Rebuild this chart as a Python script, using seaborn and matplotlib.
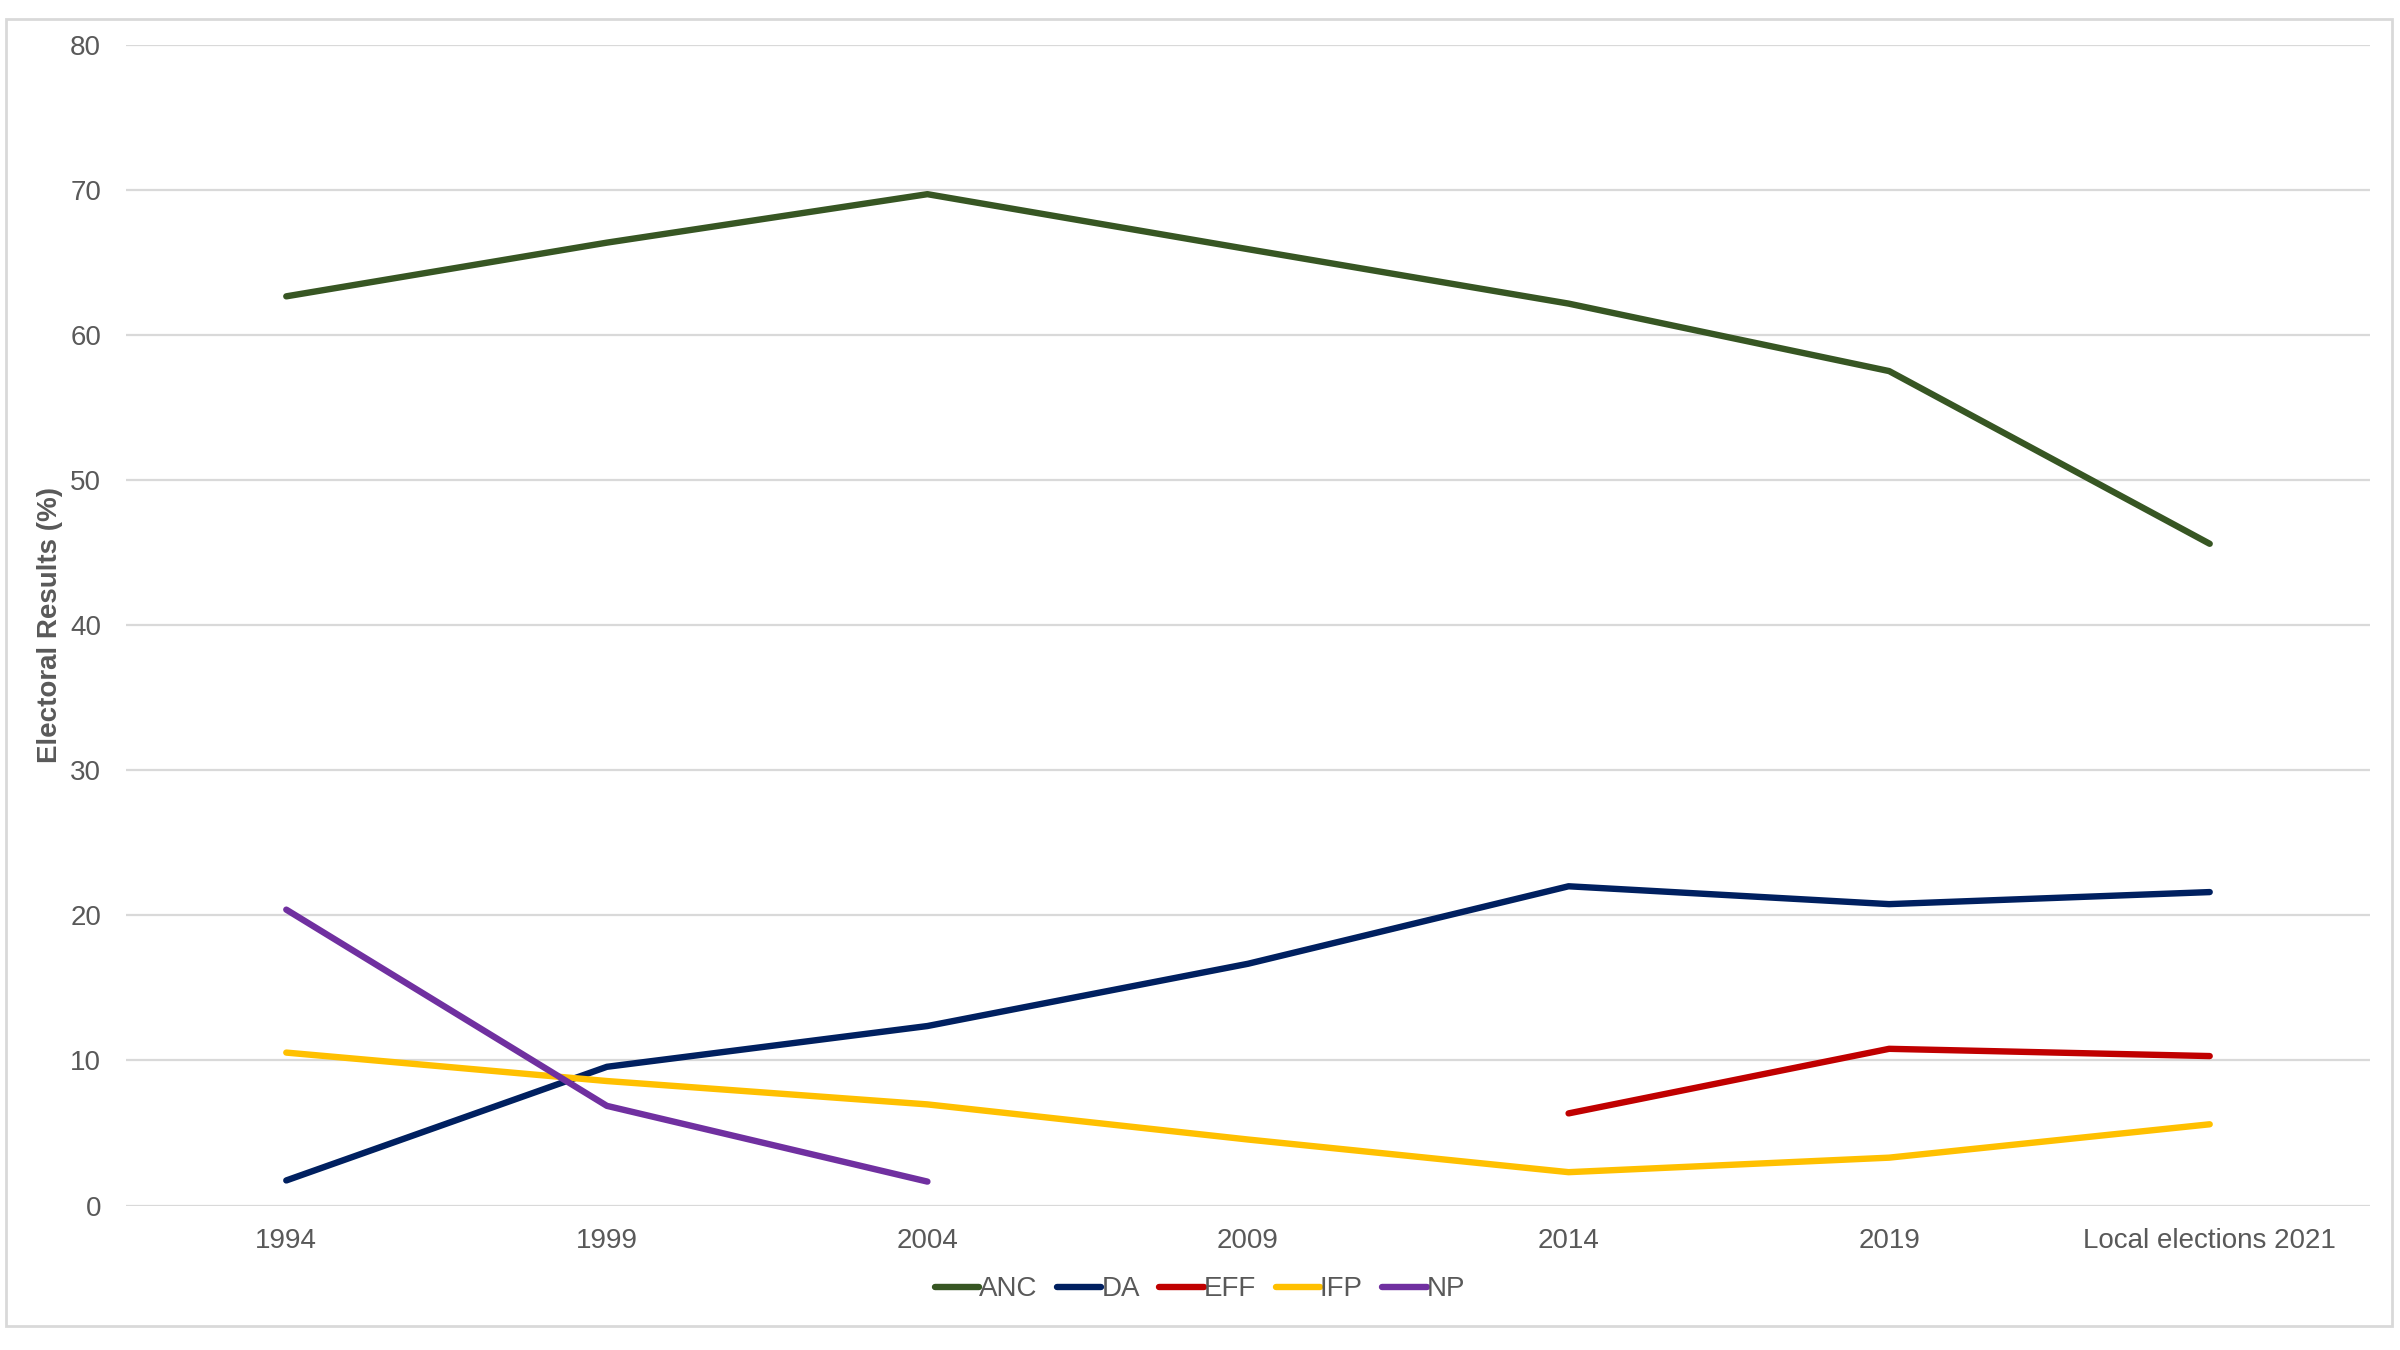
import numpy as np
import pandas as pd
import matplotlib
matplotlib.use("Agg")
import matplotlib.pyplot as plt
from matplotlib.patches import Rectangle
import seaborn as sns

categories = ["1994", "1999", "2004", "2009", "2014", "2019", "Local elections 2021"]
anc = [62.65, 66.35, 69.69, 65.90, 62.15, 57.50, 45.6]
da = [1.73, 9.56, 12.37, 16.66, 22.0, 20.77, 21.6]
eff = [np.nan, np.nan, np.nan, np.nan, 6.35, 10.80, 10.3]
ifp = [10.54, 8.58, 6.97, 4.55, 2.30, 3.30, 5.6]
np_party = [20.39, 6.87, 1.65, np.nan, np.nan, np.nan, np.nan]

parties = ["ANC", "DA", "EFF", "IFP", "NP"]
colors = ["#375623", "#002060", "#C00000", "#FFC000", "#7030A0"]
series = [anc, da, eff, ifp, np_party]

rows = []
for p, vals in zip(parties, series):
    for c, v in zip(categories, vals):
        rows.append({"Year": c, "Party": p, "Value": v})
df = pd.DataFrame(rows).dropna()

sns.set_theme(style="white")
plt.rcParams['font.family'] = ['Liberation Sans', 'DejaVu Sans']

fig = plt.figure(figsize=(12, 6.75), dpi=200)
ax = fig.add_axes([0.0525, 0.107, 0.935, 0.86])

sns.lineplot(data=df, x="Year", y="Value", hue="Party", hue_order=parties,
             palette=colors, linewidth=2.3, sort=False, ax=ax, legend=True,
             solid_capstyle="round")

ax.set_ylim(0, 80)
ax.set_xlim(-0.5, 6.5)
ax.set_yticks(np.arange(0, 81, 10))
ax.set_xticks(range(len(categories)))
ax.set_xticklabels(categories)
ax.grid(axis="y", color="#D9D9D9", linewidth=0.8)
ax.set_axisbelow(True)
for s in ax.spines.values():
    s.set_visible(False)
ax.tick_params(axis="both", length=0, labelsize=10, labelcolor="#595959")
ax.tick_params(axis="x", pad=8)
ax.tick_params(axis="y", pad=9)
ax.set_xlabel("")
ax.set_ylabel("Electoral Results (%)", fontsize=10, fontweight="bold", color="#595959")
ax.yaxis.set_label_coords(-0.028, 0.5)

handles, labels = ax.get_legend_handles_labels()
for h in handles:
    h.set_solid_capstyle("round")
    h.set_linewidth(2.3)
ax.legend(handles, labels, loc="center", bbox_to_anchor=(0.5, 0.045),
          bbox_transform=fig.transFigure, ncol=5, frameon=False, fontsize=10,
          handlelength=1.6, handletextpad=0.0, columnspacing=0.7,
          labelcolor="#595959")
ax.get_legend().set_title(None)

fig.patches.append(Rectangle((0.0025, 0.018), 0.994, 0.968, transform=fig.transFigure,
                             fill=False, edgecolor="#D9D9D9", linewidth=1.0))

fig.savefig("out.png", dpi=200, facecolor="white")
